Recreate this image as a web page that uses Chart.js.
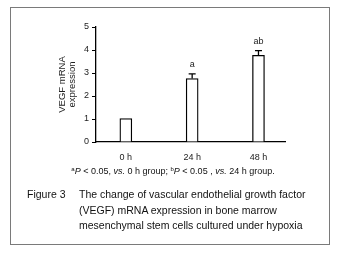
<!DOCTYPE html>
<html>
<head>
<meta charset="utf-8">
<script src="https://cdn.jsdelivr.net/npm/chart.js@4/dist/chart.umd.min.js"></script>
<style>
  body { margin: 0; background: #fff; font-family: "Liberation Sans", Arial, sans-serif; }
  #wrap { position: relative; width: 338px; height: 257px; }
  #box { position: absolute; left: 10px; top: 7px; width: 318px; height: 236px; border: 1px solid #7a7a7a; }
  canvas { position: absolute; left: 0; top: 0; }
  .note { position: absolute; left: 0; width: 338px; top: 166px; text-align: center; font-size: 9px; color: #111; padding-left: 4px; }
  .note sup { font-size: 6px; vertical-align: 3px; }
  .cap { position: absolute; font-size: 10.5px; color: #111; line-height: 15.5px; }
</style>
</head>
<body>
<div id="wrap">
  <div id="box"></div>
  <canvas id="chart" width="338" height="257"></canvas>
  <div class="note"><sup>a</sup><i>P</i> &lt; 0.05, <i>vs.</i> 0 h group; <sup>b</sup><i>P</i> &lt; 0.05 , <i>vs.</i> 24 h group.</div>
  <div class="cap" style="left:27px; top:187px;">Figure 3</div>
  <div class="cap" style="left:79px; top:187px;">The change of vascular endothelial growth factor<br>(VEGF) mRNA expression in bone marrow<br>mesenchymal stem cells cultured under hypoxia</div>
</div>
<script>
const categories = ["0 h", "24 h", "48 h"];
const expression = [1.02, 2.76, 3.77];
const errors = [0, 0.2, 0.2];
const marks = ["", "a", "ab"];
const yTicks = [0, 1, 2, 3, 4, 5];

// error bars and significance letters
const errorBars = {
    id: "errorBars",
    afterDatasetsDraw(chart) {
        const { ctx, scales: { x, y } } = chart;
        ctx.save();
        ctx.strokeStyle = "#000";
        ctx.lineWidth = 1.3;
        ctx.fillStyle = "#222";
        ctx.font = "9px 'Liberation Sans', Arial";
        ctx.textAlign = "center";
        ctx.textBaseline = "bottom";
        expression.forEach((v, i) => {
            const px = x.getPixelForValue(i + 1);
            const top = y.getPixelForValue(v + errors[i]);
            if (errors[i] > 0) {
                ctx.beginPath();
                ctx.moveTo(px, y.getPixelForValue(v));
                ctx.lineTo(px, top);
                ctx.moveTo(px - 3.5, top);
                ctx.lineTo(px + 3.5, top);
                ctx.stroke();
            }
            if (marks[i]) ctx.fillText(marks[i], px, top - 5);
        });
        ctx.restore();
    },
};

const ctx = document.getElementById("chart").getContext("2d");
new Chart(ctx, {
    type: "bar",
    data: {
        datasets: [
            {
                data: expression.map((v, i) => ({ x: i + 1, y: v })),
                backgroundColor: "#fff",
                borderColor: "#000",
                borderWidth: 1.3,
                barThickness: 12,
            },
        ],
    },
    options: {
        responsive: false,
        animation: false,
        layout: {
            padding: { left: 57, top: 27, right: 53, bottom: 0 },
        },
        plugins: {
            legend: { display: false },
            tooltip: { enabled: false },
        },
        scales: {
            x: {
                type: "linear",
                offset: false,
                min: 0.55,
                max: 3.4,
                afterFit: (scale) => { scale.height = 115; },
                afterBuildTicks: (scale) => {
                    scale.ticks = categories.map((c, i) => ({ value: i + 1 }));
                },
                border: { display: true, color: "#000", width: 1.3 },
                grid: { display: false },
                ticks: {
                    color: "#222",
                    font: { family: "'Liberation Sans', Arial", size: 9 },
                    padding: 2,
                    callback: (value) => categories[value - 1],
                },
            },
            y: {
                min: 0,
                max: 5,
                afterFit: (scale) => { scale.width = 39; },
                afterBuildTicks: (scale) => {
                    scale.ticks = yTicks.map((v) => ({ value: v }));
                },
                border: { display: true, color: "#000", width: 1.3 },
                grid: {
                    drawOnChartArea: false,
                    drawTicks: true,
                    tickLength: 4,
                    color: "#000",
                },
                ticks: {
                    color: "#222",
                    font: { family: "'Liberation Sans', Arial", size: 9 },
                    padding: 3,
                },
                title: {
                    display: true,
                    text: ["VEGF mRNA", "expression"],
                    color: "#222",
                    font: { family: "'Liberation Sans', Arial", size: 9.5, lineHeight: 1.1 },
                    padding: 0,
                },
            },
        },
    },
    plugins: [errorBars],
});
</script>
</body>
</html>
